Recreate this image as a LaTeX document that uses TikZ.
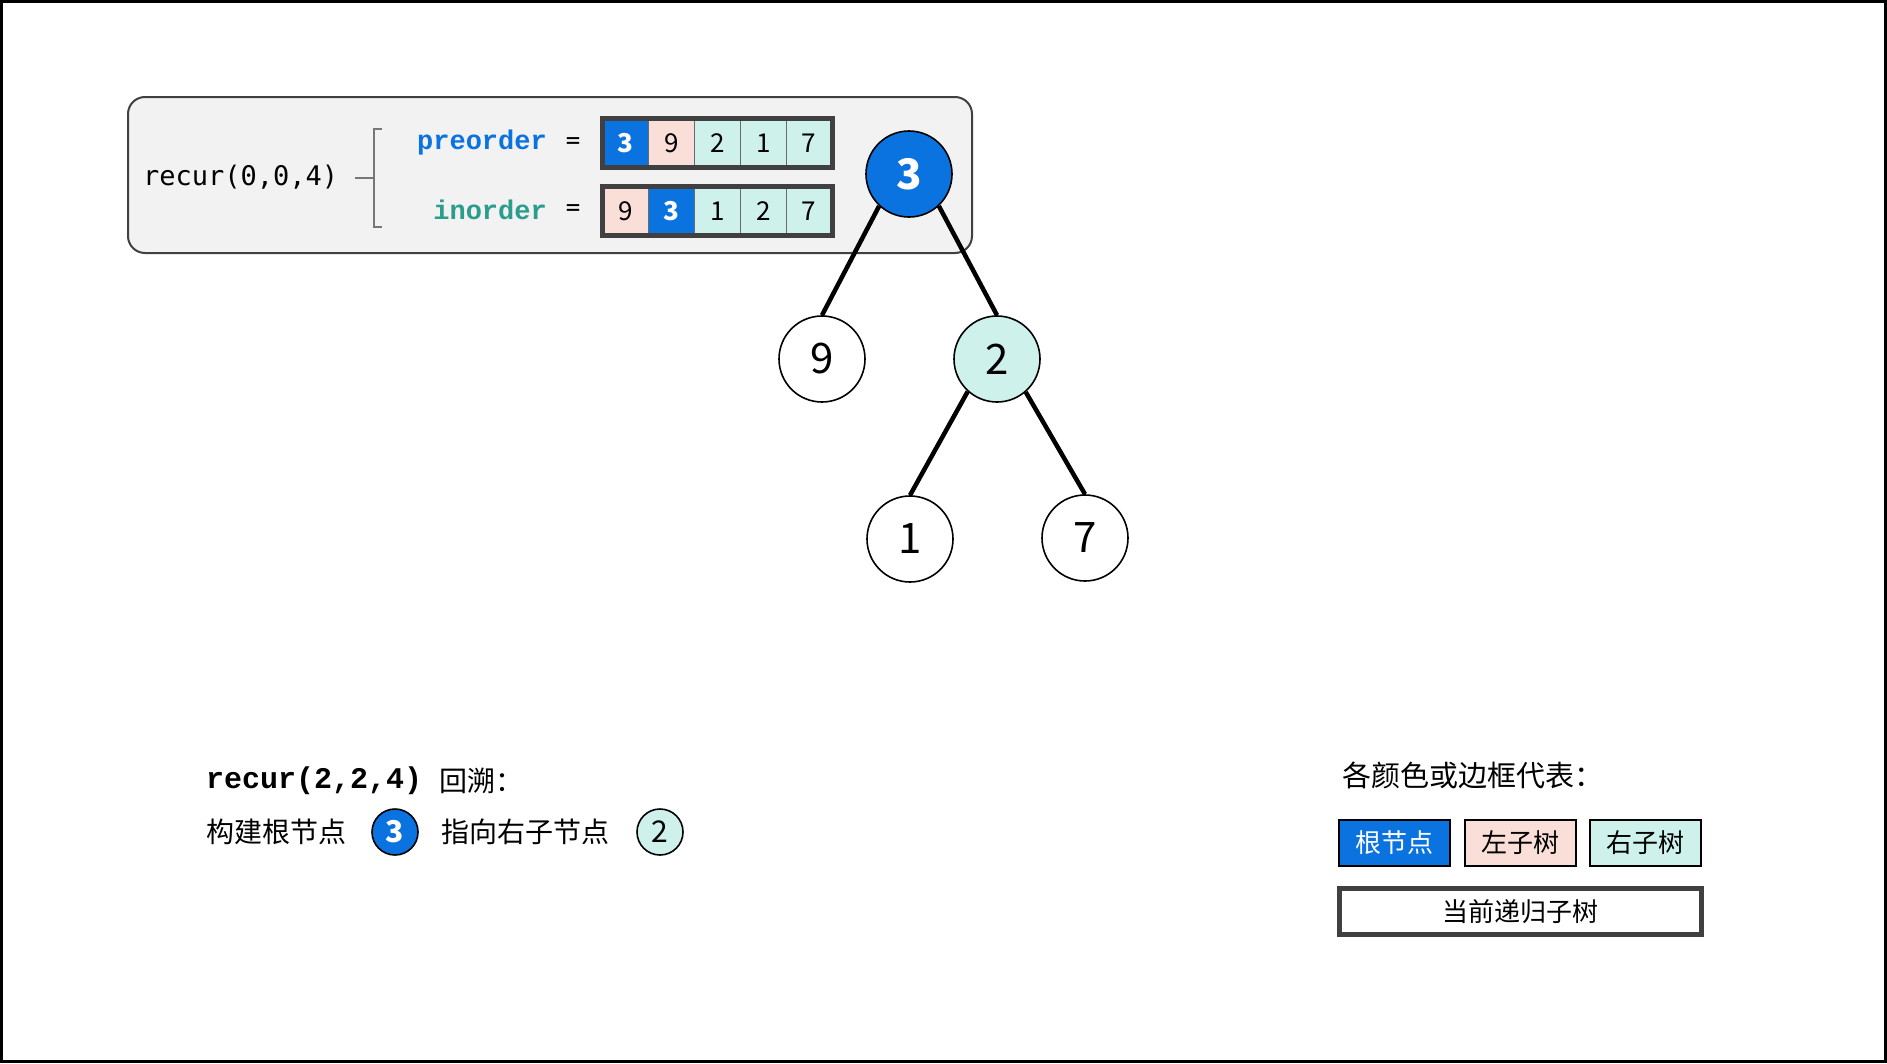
\documentclass[tikz,border=0pt]{standalone}
\usepackage{fontspec}
\newfontfamily\cjk{Noto Sans CJK SC}
\newfontfamily\monof{DejaVu Sans Mono}
\newfontfamily\monob{Liberation Mono}
\definecolor{rootblue}{HTML}{0B73E0}
\definecolor{leftpink}{HTML}{FADFD8}
\definecolor{rightteal}{HTML}{CEF1EC}
\definecolor{inteal}{HTML}{2A9D8C}
\definecolor{panelgray}{HTML}{F2F2F2}
\definecolor{framegray}{HTML}{404040}
\definecolor{sepgray}{HTML}{6A6A6A}
\definecolor{bracegray}{HTML}{777777}
\tikzset{
  tnode/.style={circle, draw=black, line width=1.6, minimum size=86, inner sep=0, font=\cjk\fontsize{42}{42}\selectfont},
  snode/.style={circle, draw=black, line width=1.6, minimum size=46, inner sep=0, font=\cjk\fontsize{30}{30}\selectfont},
  edge/.style={line width=4.5, draw=black},
  cell/.style={rectangle, draw=sepgray, line width=1.2, minimum width=45.8, minimum height=48, inner sep=0, font=\cjk\fontsize{26}{26}\selectfont},
  outerbox/.style={draw=framegray, line width=4.5},
  legendbox/.style={rectangle, draw=black, line width=2, minimum width=111, minimum height=46, inner sep=0, font=\cjk\fontsize{26}{26}\selectfont},
  txt/.style={inner sep=0, anchor=west},
}
\begin{document}
\begin{tikzpicture}[x=1pt,y=-1pt]
\useasboundingbox (0,0) rectangle (1887,1063);
\draw[line width=3] (1.5,1.5) rectangle (1885.5,1061.5);

% panel
\draw[fill=panelgray, draw=framegray, line width=2, rounded corners=17] (128,97) rectangle (972,253);
\node[txt, font=\monof\fontsize{27}{27}\selectfont] (rc) at (143,177) {recur(0,0,4)};
\coordinate (bt) at (373.5,178);
\draw[bracegray, line width=2] (355,178) -- (bt);
\draw[bracegray, line width=2] (382,129) -- (373.5,129) -- (373.5,227) -- (382,227);
\node[inner sep=0, anchor=east, text=rootblue, font=\monob\bfseries\fontsize{27}{27}\selectfont] (pre) at (547,143) {preorder};
\node[inner sep=0, anchor=east, text=inteal, font=\monob\bfseries\fontsize{27}{27}\selectfont] (ino) at (547,210) {inorder};
\node[inner sep=0, font=\monof\fontsize{24}{24}\selectfont] (eq1) at (573,143) {=};
\node[inner sep=0, font=\monof\fontsize{24}{24}\selectfont] (eq2) at (573,210) {=};

% preorder array
\node[cell, fill=rootblue, text=white, font=\cjk\bfseries\fontsize{26}{26}\selectfont] (p1) at (625.9,143) {3};
\node[cell, fill=leftpink] (p2) at (671.7,143) {9};
\node[cell, fill=rightteal] (p3) at (717.5,143) {2};
\node[cell, fill=rightteal] (p4) at (763.3,143) {1};
\node[cell, fill=rightteal] (p5) at (809.1,143) {7};
\draw[outerbox] (p1.north west) rectangle (p5.south east);
% inorder array
\node[cell, fill=leftpink] (i1) at (625.9,211) {9};
\node[cell, fill=rootblue, text=white, font=\cjk\bfseries\fontsize{26}{26}\selectfont] (i2) at (671.7,211) {3};
\node[cell, fill=rightteal] (i3) at (717.5,211) {1};
\node[cell, fill=rightteal] (i4) at (763.3,211) {2};
\node[cell, fill=rightteal] (i5) at (809.1,211) {7};
\draw[outerbox] (i1.north west) rectangle (i5.south east);

% tree
\node[tnode, fill=rootblue, text=white, font=\cjk\bfseries\fontsize{42}{42}\selectfont] (r) at (909,174) {3};
\node[tnode, fill=white] (n9) at (822,359) {9};
\node[tnode, fill=rightteal] (n2) at (997,359) {2};
\node[tnode, fill=white] (n1) at (910,539) {1};
\node[tnode, fill=white] (n7) at (1085,538) {7};
\draw[edge] (r.-133) -- (n9.north);
\draw[edge] (r.-47) -- (n2.north);
\draw[edge] (n2.-132) -- (n1.north);
\draw[edge] (n2.-49) -- (n7.north);

% bottom-left explanation
\node[txt, font=\monob\bfseries\fontsize{30}{30}\selectfont] (t1) at (206,781) {recur(2,2,4)};
\node[txt, font=\cjk\fontsize{28}{28}\selectfont] (t2) at (439,781) {回溯：};
\node[txt, font=\cjk\fontsize{28}{28}\selectfont] (t3) at (206,832) {构建根节点};
\node[snode, fill=rootblue, text=white, font=\cjk\bfseries\fontsize{30}{30}\selectfont] (s3) at (395,832) {3};
\node[txt, font=\cjk\fontsize{28}{28}\selectfont] (t4) at (441,832) {指向右子节点};
\node[snode, fill=rightteal] (s2) at (660,832) {2};

% legend
\node[txt, font=\cjk\fontsize{29}{29}\selectfont] (lt) at (1342,775) {各颜色或边框代表：};
\node[legendbox, fill=rootblue, text=white] (l1) at (1394.5,843) {根节点};
\node[legendbox, fill=leftpink] (l2) at (1520.3,843) {左子树};
\node[legendbox, fill=rightteal] (l3) at (1645.8,843) {右子树};
\node[legendbox, draw=framegray, line width=5, minimum width=362, minimum height=46] (l4) at (1520.5,911.5) {当前递归子树};
\end{tikzpicture}
\end{document}
